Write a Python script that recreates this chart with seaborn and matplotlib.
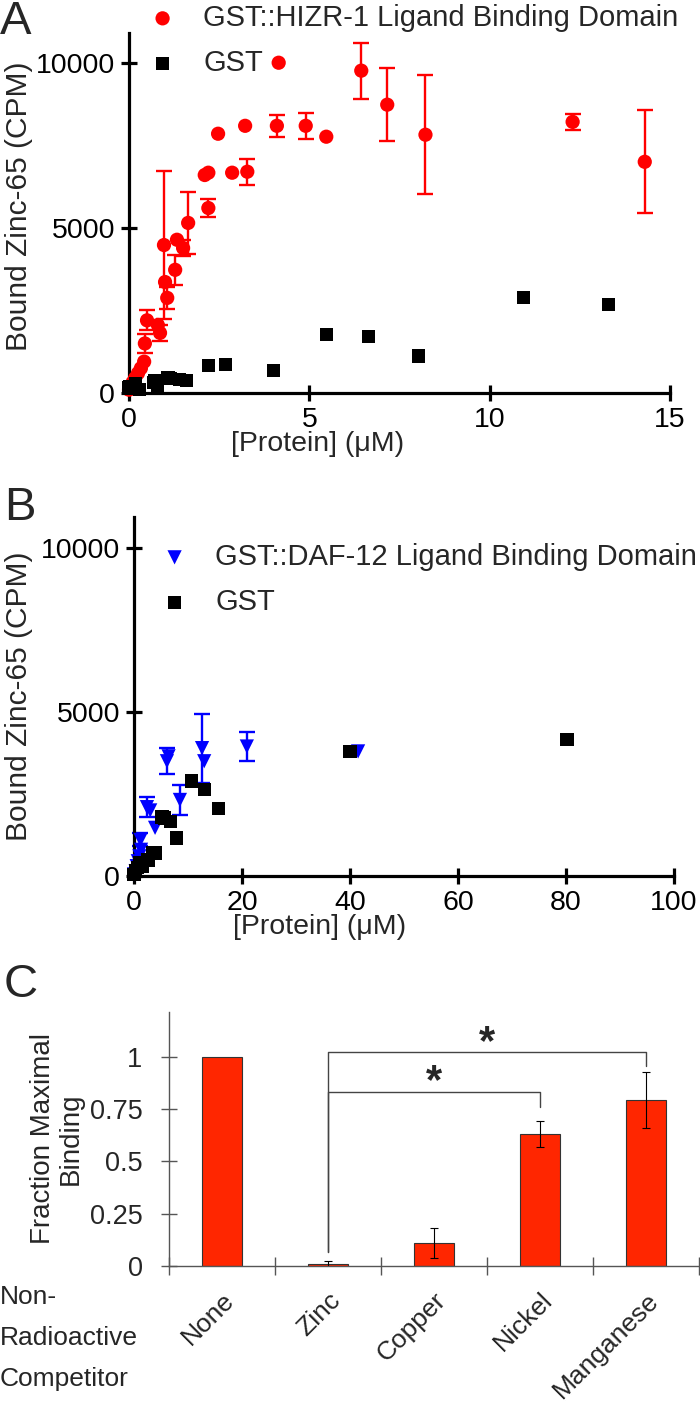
import numpy as np
import pandas as pd
import matplotlib
matplotlib.use('Agg')
import matplotlib.pyplot as plt
import seaborn as sns

# ---- panel A: GST::HIZR-1 LBD vs GST ----
hizr_x = [0.00, 0.05, 0.10, 0.17, 0.25, 0.33, 0.42, 0.44, 0.50, 0.80, 0.86, 0.97, 1.00,
          1.06, 1.28, 1.33, 1.50, 1.64, 2.10, 2.20, 2.20, 2.47, 2.86, 3.22, 3.28, 4.10,
          4.15, 4.90, 5.47, 6.44, 7.16, 8.22, 12.30, 14.30]
hizr_y = [100, 200, 320, 450, 600, 750, 950, 1500, 2200, 2060, 1820, 4480, 3360,
          2880, 3730, 4640, 4390, 5150, 6600, 6670, 5600, 7850, 6670, 8090, 6700, 8090,
          10000, 8090, 7760, 9760, 8730, 7820, 8210, 7000]
hizr_err = [0, 0, 0, 0, 0, 0, 0, 300, 300, 0, 250, 2250, 0,
            330, 450, 0, 250, 950, 0, 0, 280, 0, 0, 0, 400, 330,
            0, 400, 0, 850, 1100, 1800, 250, 1560]
gstA_x = [0.00, 0.03, 0.17, 0.30, 0.67, 0.72, 0.80, 1.08, 1.14, 1.40, 1.60, 2.20, 2.67,
          4.00, 5.47, 6.64, 8.03, 10.94, 13.30]
gstA_y = [150, 180, 300, 100, 330, 390, 150, 480, 450, 400, 390, 830, 870,
          680, 1760, 1700, 1120, 2880, 2670]

# ---- panel B: GST::DAF-12 LBD vs GST ----
daf_x = [0.0, 0.3, 0.5, 0.7, 1.0, 1.2, 1.3, 2.4, 3.0, 3.9, 6.1, 6.4, 8.5, 12.6, 13.0, 20.9, 41.5]
daf_y = [50, 150, 300, 450, 600, 1100, 800, 2100, 2000, 1470, 3500, 3650, 2320, 3900, 3500, 3950, 3800]
daf_err = [0, 0, 0, 0, 0, 200, 0, 300, 0, 0, 400, 0, 470, 1050, 0, 450, 0]
gstB_x = [0.0, 0.3, 0.6, 1.1, 1.5, 2.6, 3.5, 3.9, 5.2, 5.7, 6.7, 7.8, 10.7, 13.0, 15.6, 40.0, 80.2]
gstB_y = [50, 150, 250, 400, 280, 490, 700, 700, 1800, 1770, 1650, 1160, 2900, 2650, 2050, 3800, 4160]

# ---- panel C: competition ----
competitors = ['None', 'Zinc', 'Copper', 'Nickel', 'Manganese']
fraction = [1.0, 0.01, 0.11, 0.632, 0.794]
fraction_err = [0.0, 0.014, 0.07, 0.062, 0.132]

sns.set_style('ticks')
plt.rcParams['font.family'] = ['Liberation Sans', 'DejaVu Sans']
plt.rcParams['mathtext.default'] = 'regular'

fig = plt.figure(figsize=(7, 14.16), dpi=100)
W, H = 700.0, 1416.0
fs = 20.5


def prism_axes(ax):
    sns.despine(ax=ax)
    for s in ['left', 'bottom']:
        ax.spines[s].set_linewidth(2.3)
        ax.spines[s].set_color('black')
    ax.tick_params(direction='inout', length=12, width=2.3, labelsize=fs, pad=4, colors='black')


def scatter_panel(ax, xs, ys, errs, color, marker, label, gx, gy):
    errs = np.array(errs)
    xs = np.array(xs)
    ys = np.array(ys)
    m = errs > 0
    ax.errorbar(xs[m], ys[m], yerr=errs[m], fmt='none', ecolor=color,
                elinewidth=1.7, capsize=6, capthick=1.7, zorder=2, clip_on=False)
    sns.scatterplot(x=xs, y=ys, ax=ax, color=color, marker=marker, s=105,
                    edgecolor='none', linewidth=0, label=label, zorder=3, clip_on=False)
    sns.scatterplot(x=gx, y=gy, ax=ax, color='black', marker='s', s=90,
                    edgecolor='none', linewidth=0, label='GST', zorder=3, clip_on=False)


# panel A
axA = fig.add_axes([129 / W, (H - 393) / H, (670 - 129) / W, (393 - 33) / H])
scatter_panel(axA, hizr_x, hizr_y, hizr_err, '#ff0000', 'o',
              'GST::HIZR-1 Ligand Binding Domain', gstA_x, gstA_y)
axA.set_xlim(0, 15)
axA.set_ylim(0, 10900)
axA.set_xticks([0, 5, 10, 15])
axA.set_yticks([0, 5000, 10000])
prism_axes(axA)
axA.set_xlabel('[Protein] (μM)', fontsize=fs)
axA.set_ylabel('Bound Zinc-65 (CPM)', fontsize=21.5)
axA.xaxis.set_label_coords((318 - 129) / 541, -0.105)
axA.yaxis.set_label_coords(-0.178, 0.52)
axA.legend(loc='upper left', bbox_to_anchor=(148 / W, 1 - 4 / H), bbox_transform=fig.transFigure,
           frameon=False, fontsize=21, handlelength=1.0, handletextpad=0.9,
           borderpad=0, borderaxespad=0, labelspacing=0.58)

# panel B
axB = fig.add_axes([134 / W, (H - 876) / H, (674 - 134) / W, (876 - 517) / H])
scatter_panel(axB, daf_x, daf_y, daf_err, '#0000ff', 'v',
              'GST::DAF-12 Ligand Binding Domain', gstB_x, gstB_y)
axB.set_xlim(0, 100)
axB.set_ylim(0, 10950)
axB.set_xticks([0, 20, 40, 60, 80, 100])
axB.set_yticks([0, 5000, 10000])
prism_axes(axB)
axB.set_xlabel('[Protein] (μM)', fontsize=fs)
axB.set_ylabel('Bound Zinc-65 (CPM)', fontsize=21.5)
axB.xaxis.set_label_coords((320 - 134) / 540, -0.106)
axB.yaxis.set_label_coords(-0.187, 0.5)
axB.legend(loc='upper left', bbox_to_anchor=(160 / W, 1 - 543 / H), bbox_transform=fig.transFigure,
           frameon=False, fontsize=21, handlelength=1.0, handletextpad=0.9,
           borderpad=0, borderaxespad=0, labelspacing=0.58)

# panel C
axC = fig.add_axes([169 / W, (H - 1266) / H, (699 - 169) / W, (1266 - 1012) / H])
dfC = pd.DataFrame({'competitor': competitors, 'fraction': fraction})
sns.barplot(data=dfC, x='competitor', y='fraction', ax=axC, color='#ff2600',
            saturation=1, width=0.38, edgecolor='#333333', linewidth=0.8, errorbar=None)
pos = np.arange(len(competitors))
ferr = np.array(fraction_err)
mC = ferr > 0
axC.errorbar(pos[mC], np.array(fraction)[mC], yerr=ferr[mC], fmt='none', ecolor='black',
             elinewidth=0.8, capsize=3, capthick=0.8)
axC.set_xlim(-0.5, 4.5)
axC.set_ylim(0, 1.215)
sns.despine(ax=axC)
for s in ['left', 'bottom']:
    axC.spines[s].set_linewidth(1.0)
    axC.spines[s].set_color('#555555')
axC.set_yticks([0, 0.25, 0.5, 0.75, 1])
axC.set_yticklabels(['0', '0.25', '0.5', '0.75', '1'])
axC.tick_params(axis='y', direction='inout', length=12, width=1.0, color='#555555',
                labelsize=19.5, pad=13)
axC.set_xticks(pos)
axC.set_xticklabels(competitors, rotation=45, ha='right', rotation_mode='anchor')
axC.tick_params(axis='x', length=0, labelsize=19, pad=16)
axC.set_xticks(np.arange(-0.5, 5, 1), minor=True)
axC.tick_params(axis='x', which='minor', direction='inout', length=13, width=1.0, color='#555555')
axC.set_xlabel('')
axC.set_ylabel('Fraction Maximal\nBinding', fontsize=20, linespacing=1.1)
axC.yaxis.set_label_coords(-0.16, 0.5)

# significance brackets
axC.plot([1, 1, 4, 4], [0.067, 1.024, 1.024, 0.957], color='#444444', lw=1.0)
axC.plot([1, 1, 3, 3], [0.067, 0.833, 0.833, 0.76], color='#444444', lw=1.0)
axC.text(2.5, 1.065, '*', fontsize=30, fontweight='bold', ha='center', va='center')
axC.text(2.0, 0.88, '*', fontsize=30, fontweight='bold', ha='center', va='center')

fig.text(0, (H - 1285) / H, 'Non-\nRadioactive\nCompetitor', fontsize=19, va='top',
         ha='left', linespacing=1.9)

# panel letters
fig.text(0 / W, 1 - 0 / H, 'A', fontsize=34, va='top', ha='left')
fig.text(4 / W, 1 - 486 / H, 'B', fontsize=34, va='top', ha='left')
fig.text(4 / W, 1 - 963 / H, 'C', fontsize=34, va='top', ha='left')

fig.savefig('out.png', dpi=100)
